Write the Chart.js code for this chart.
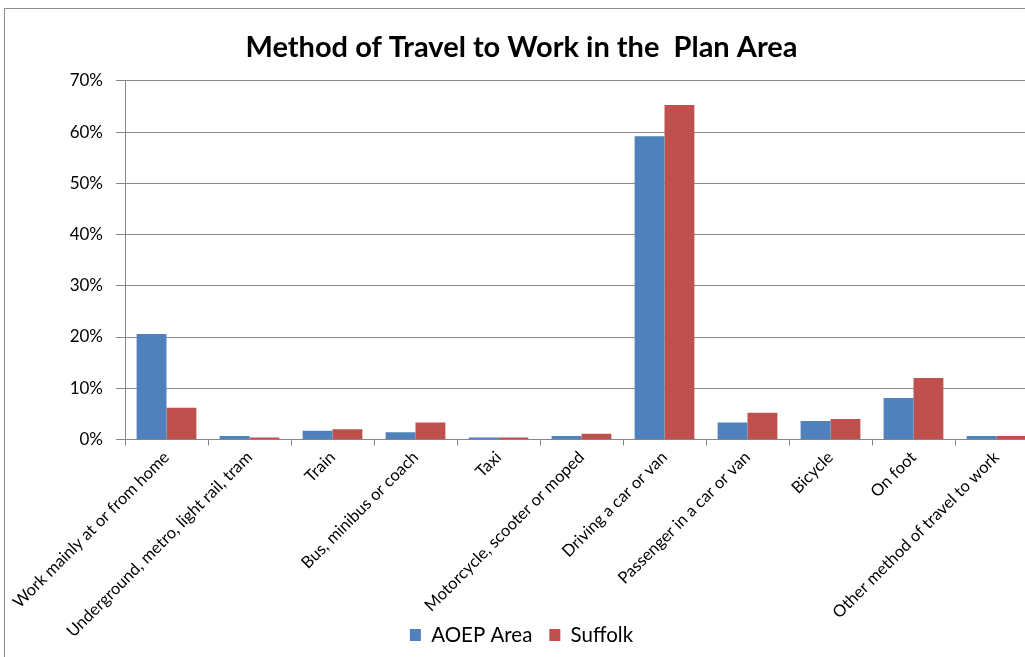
<!DOCTYPE html>
<html>
<head>
<meta charset="utf-8">
<script src="https://cdn.jsdelivr.net/npm/chart.js@4"></script>
<style>
  html, body { margin: 0; padding: 0; background: #fff; overflow: hidden; }
  #frame { position: absolute; left: 4px; top: 8px; border: 1px solid #8c8c8c; background: #fff; }
  canvas { display: block; }
</style>
</head>
<body>
<div id="frame"><canvas id="travelChart" width="1045" height="660"></canvas></div>
<script>
const categories = [
  'Work mainly at or from home',
  'Underground, metro, light rail, tram',
  'Train',
  'Bus, minibus or coach',
  'Taxi',
  'Motorcycle, scooter or moped',
  'Driving a car or van',
  'Passenger in a car or van',
  'Bicycle',
  'On foot',
  'Other method of travel to work',
]
const aoepArea = [20.6, 0.7, 1.7, 1.4, 0.4, 0.7, 59.2, 3.3, 3.6, 8.1, 0.7]
const suffolk = [6.2, 0.4, 2.0, 3.3, 0.4, 1.1, 65.3, 5.2, 4.0, 12.0, 0.7]
const yTicks = [0, 10, 20, 30, 40, 50, 60, 70]

const FONT = 'Lato, "Liberation Sans", sans-serif'
const GRID = '#868686'

// long rotated labels run down beside the legend, so let the x axis draw past its box
const unclipLabels = {
  id: 'unclipLabels',
  afterLayout(chart) {
    chart.scales.x.bottom = chart.height
  },
}

const ctx = document.getElementById('travelChart').getContext('2d')
new Chart(ctx, {
  type: 'bar',
  data: {
    labels: categories,
    datasets: [
      { label: 'AOEP Area', data: aoepArea, backgroundColor: '#4f81bd', borderWidth: 0 },
      { label: 'Suffolk', data: suffolk, backgroundColor: '#c0504d', borderWidth: 0 },
    ],
  },
  plugins: [unclipLabels],
  options: {
    responsive: false,
    animation: false,
    layout: { padding: { left: 0, right: 12, top: 0, bottom: 13.75 } },
    datasets: { bar: { categoryPercentage: 0.72, barPercentage: 1.0 } },
    plugins: {
      title: {
        display: true,
        text: 'Method of Travel to Work in the  Plan Area',
        color: '#000',
        font: { family: FONT, size: 29, weight: 'bold' },
        padding: { top: 21, bottom: 16 },
      },
      legend: {
        position: 'bottom',
        labels: {
          color: '#000',
          font: { family: FONT, size: 20.5 },
          boxWidth: 11,
          boxHeight: 12,
          padding: 17,
        },
      },
      tooltip: { enabled: false },
    },
    scales: {
      x: {
        grid: { drawOnChartArea: false, drawTicks: true, tickLength: 6, color: GRID },
        border: { color: GRID },
        ticks: {
          color: '#000',
          font: { family: FONT, size: 16.5 },
          minRotation: 45,
          maxRotation: 45,
          autoSkip: false,
          padding: 2,
        },
        afterFit: (s) => { s.height = 168.25 },
      },
      y: {
        min: 0,
        max: 70,
        afterBuildTicks: (s) => { s.ticks = yTicks.map((v) => ({ value: v })) },
        grid: { color: GRID, tickLength: 9 },
        border: { color: GRID },
        ticks: {
          color: '#000',
          font: { family: FONT, size: 17 },
          padding: 13,
          callback: (v) => v + '%',
        },
        afterFit: (s) => { s.width = 120 },
      },
    },
  },
})
</script>
</body>
</html>
